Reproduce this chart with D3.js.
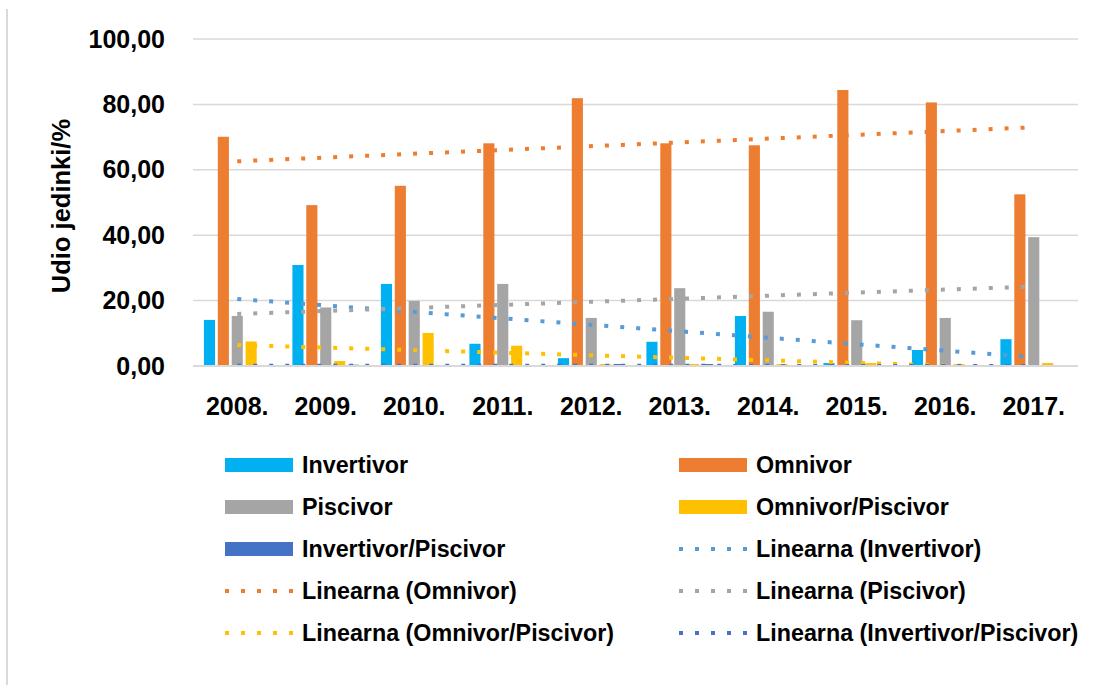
<!DOCTYPE html>
<html>
<head>
<meta charset="utf-8">
<script src="https://cdn.jsdelivr.net/npm/d3@7"></script>
<style>
  body { margin: 0; background: #fff; }
  text { font-family: "Liberation Sans", Arial, sans-serif; font-weight: bold; fill: #000; }
</style>
</head>
<body>
<svg id="chart" width="1096" height="685"></svg>
<script>
const years = ["2008.", "2009.", "2010.", "2011.", "2012.", "2013.", "2014.", "2015.", "2016.", "2017."];
const seriesNames = ["Invertivor", "Omnivor", "Piscivor", "Omnivor/Piscivor", "Invertivor/Piscivor"];
const seriesColors = ["#00B0F0", "#ED7D31", "#A5A5A5", "#FFC000", "#4472C4"];
const trendColors = ["#5B9BD5", "#ED7D31", "#A5A5A5", "#FFC000", "#4472C4"];

// values, one array per group
const invertivor = [14.1, 30.9, 25.1, 6.8, 2.4, 7.4, 15.3, 0.9, 4.9, 8.2];
const omnivor = [70.1, 49.2, 55.1, 68.1, 81.9, 68.1, 67.5, 84.4, 80.6, 52.5];
const piscivor = [15.3, 17.9, 19.9, 25.1, 14.7, 23.8, 16.6, 14.0, 14.7, 39.4];
const omnivorPiscivor = [7.5, 1.5, 10.1, 6.2, 0.6, 0.6, 0.6, 0.9, 0.6, 0.9];
const invertivorPiscivor = [0, 0.4, 0, 0, 0.6, 0.6, 0, 0, 0, 0];

// linear trend lines: value at 2008. and at 2017.
const trendStart = [20.5, 62.6, 15.9, 6.4, 0.1];
const trendEnd = [2.7, 73.0, 24.3, -0.6, 0.0];

const yTicks = [0, 20, 40, 60, 80, 100];
const legendOrder = [
  { label: "Invertivor", s: 0, trend: false },
  { label: "Omnivor", s: 1, trend: false },
  { label: "Piscivor", s: 2, trend: false },
  { label: "Omnivor/Piscivor", s: 3, trend: false },
  { label: "Invertivor/Piscivor", s: 4, trend: false },
  { label: "Linearna (Invertivor)", s: 0, trend: true },
  { label: "Linearna (Omnivor)", s: 1, trend: true },
  { label: "Linearna (Piscivor)", s: 2, trend: true },
  { label: "Linearna (Omnivor/Piscivor)", s: 3, trend: true },
  { label: "Linearna (Invertivor/Piscivor)", s: 4, trend: true }
];

const allValues = [invertivor, omnivor, piscivor, omnivorPiscivor, invertivorPiscivor];

const svg = d3.select("#chart");
const plotLeft = 193, plotRight = 1078, plotTop = 39, plotBottom = 366;

const x0 = d3.scaleBand().domain(years).range([plotLeft, plotRight])
  .paddingInner(0.215).paddingOuter(0.1075);
const x1 = d3.scaleBand().domain(seriesNames).range([0, x0.bandwidth()])
  .paddingInner(0.2).paddingOuter(0.1);
const y = d3.scaleLinear().domain([0, 100]).range([plotBottom, plotTop]);

// chart frame (left edge only visible)
svg.append("line")
  .attr("x1", 7).attr("x2", 7).attr("y1", 9).attr("y2", 685)
  .attr("stroke", "#D9D9D9").attr("stroke-width", 2);

svg.append("defs").append("clipPath").attr("id", "plotClip")
  .append("rect")
  .attr("x", plotLeft).attr("y", plotTop - 5)
  .attr("width", plotRight - plotLeft).attr("height", plotBottom - plotTop + 5);

// gridlines
svg.append("g")
  .selectAll("line")
  .data(yTicks)
  .join("line")
  .attr("x1", plotLeft).attr("x2", plotRight)
  .attr("y1", d => y(d)).attr("y2", d => y(d))
  .attr("stroke", "#D9D9D9").attr("stroke-width", 1.5);

// y axis labels
const yAxis = svg.append("g")
  .attr("transform", `translate(${plotLeft},0)`)
  .call(d3.axisLeft(y).tickValues(yTicks).tickSize(0).tickPadding(28)
    .tickFormat(d => d3.format(".2f")(d).replace(".", ",")));
yAxis.select(".domain").remove();
yAxis.attr("font-family", null).attr("font-size", null);
yAxis.selectAll("text").style("font-size", "25px");

// x axis labels
const xAxis = svg.append("g")
  .attr("transform", `translate(0,${plotBottom})`)
  .call(d3.axisBottom(x0).tickSize(0).tickPadding(31));
xAxis.select(".domain").remove();
xAxis.attr("font-family", null).attr("font-size", null);
xAxis.selectAll("text").style("font-size", "25px");

// bars
const groups = svg.append("g")
  .selectAll("g")
  .data(years)
  .join("g")
  .attr("transform", d => `translate(${x0(d)},0)`);

groups.selectAll("rect")
  .data((d, i) => seriesNames.map((s, k) => ({ s, k, v: allValues[k][i] })))
  .join("rect")
  .filter(d => d.v > 0)
  .attr("x", d => x1(d.s))
  .attr("width", x1.bandwidth())
  .attr("y", d => y(d.v))
  .attr("height", d => y(0) - y(d.v))
  .attr("fill", d => seriesColors[d.k]);

// trend lines
const xFirst = x0(years[0]) + x0.bandwidth() / 2;
const xLast = x0(years[years.length - 1]) + x0.bandwidth() / 2;
const trendLine = d3.line().x(d => d[0]).y(d => y(d[1]));

svg.append("g")
  .attr("clip-path", "url(#plotClip)")
  .selectAll("path")
  .data(seriesNames.map((s, k) => k))
  .join("path")
  .attr("d", k => trendLine([[xFirst, trendStart[k]], [xLast, trendEnd[k]]]))
  .attr("fill", "none")
  .attr("stroke", k => trendColors[k])
  .attr("stroke-width", 4)
  .attr("stroke-dasharray", "4,12");

// axis line at zero, over the trend dots
svg.append("line")
  .attr("x1", plotLeft).attr("x2", plotRight)
  .attr("y1", y(0)).attr("y2", y(0))
  .attr("stroke", "#D9D9D9").attr("stroke-width", 2);

// y axis title
svg.append("text")
  .attr("transform", "translate(61,206) rotate(-90)")
  .attr("text-anchor", "middle")
  .attr("dy", "0.35em")
  .style("font-size", "25.5px")
  .text("Udio jedinki/%");

// legend
const colX = [225, 679];
const legend = svg.append("g")
  .selectAll("g")
  .data(legendOrder)
  .join("g")
  .attr("transform", (d, i) => `translate(${colX[i % 2]},${465 + Math.floor(i / 2) * 42})`);

legend.filter(d => !d.trend)
  .append("rect")
  .attr("x", 0).attr("y", -7)
  .attr("width", 68).attr("height", 14)
  .attr("fill", d => seriesColors[d.s]);

legend.filter(d => d.trend)
  .append("line")
  .attr("x1", 0).attr("x2", 68)
  .attr("y1", 0).attr("y2", 0)
  .attr("stroke", d => trendColors[d.s])
  .attr("stroke-width", 4)
  .attr("stroke-dasharray", "4,12");

legend.append("text")
  .attr("x", 77)
  .attr("dy", "0.35em")
  .style("font-size", "23.3px")
  .text(d => d.label);
</script>
</body>
</html>
